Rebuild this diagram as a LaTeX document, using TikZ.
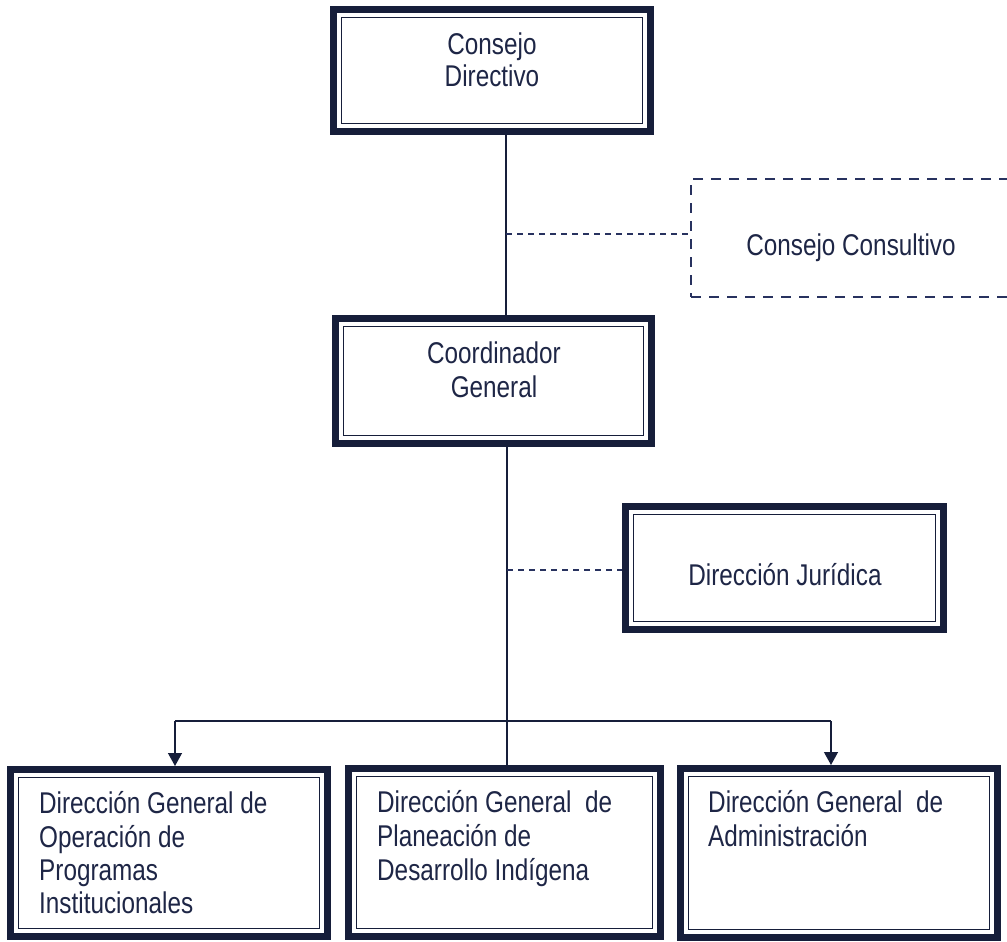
\documentclass[tikz,border=0pt]{standalone}
\usepackage{fontspec}
\setmainfont{Liberation Sans}[FakeStretch=0.81]
\usetikzlibrary{arrows.meta}
\definecolor{navy}{RGB}{22,30,58}
\definecolor{ink}{RGB}{30,38,70}
\definecolor{dashcol}{RGB}{40,50,95}
\tikzset{
  box/.style={draw=navy, line width=7pt, fill=white, inner sep=0pt},
  innerbox/.style={draw=navy, line width=1.8pt},
  dbox/.style={draw=dashcol, line width=2.2pt, dash pattern=on 10pt off 8pt, inner sep=0pt},
  txt/.style={text=ink, inner sep=0pt, font=\fontsize{30}{34}\selectfont},
  conn/.style={draw=navy, line width=1.3pt},
  dconn/.style={draw=dashcol, line width=1.3pt, dash pattern=on 6pt off 5pt},
  arr/.style={conn, -{Triangle[width=14pt,length=13pt]}}
}
\begin{document}
\begin{tikzpicture}[x=1pt,y=-1pt]
\useasboundingbox (0,0) rectangle (1007,942);
\fill[white] (0,0) rectangle (1007,942);

% boxes
\node[box, minimum width=317pt, minimum height=122pt] (cd) at (492,70.5) {};
\node[dbox, minimum width=334pt, minimum height=118pt] (cc) at (858,238) {};
\node[box, minimum width=316pt, minimum height=125pt] (cg) at (493.5,381) {};
\node[box, minimum width=318pt, minimum height=123pt] (dj) at (784.5,568) {};
\node[box, minimum width=317pt, minimum height=167pt] (b1) at (169,853) {};
\node[box, minimum width=312pt, minimum height=168pt] (b2) at (504.5,852.5) {};
\node[box, minimum width=317pt, minimum height=169pt] (b3) at (839,853) {};

\foreach \n in {cd,cg,dj,b1,b2,b3}
  \draw[innerbox] ([shift={(11.5,11.5)}]\n.north west) rectangle ([shift={(-11.5,-11.5)}]\n.south east);

% texts
\node[txt, anchor=base] (cd1) at (492,55) {Consejo};
\node[txt, anchor=base] (cd2) at (492,87) {Directivo};
\node[txt, anchor=base] (cct) at (851,255) {Consejo Consultivo};
\node[txt, anchor=base] (cg1) at (494,363) {Coordinador};
\node[txt, anchor=base] (cg2) at (494,397) {General};
\node[txt, anchor=base] (djt) at (785,585) {Dirección Jurídica};
\node[txt, anchor=base west] (b1a) at (39,813) {Dirección General de};
\node[txt, anchor=base west] (b1b) at (39,847) {Operación de};
\node[txt, anchor=base west] (b1c) at (39,880) {Programas};
\node[txt, anchor=base west] (b1d) at (39,913) {Institucionales};
\node[txt, anchor=base west] (b2a) at (377,812) {Dirección General~~de};
\node[txt, anchor=base west] (b2b) at (377,846) {Planeación de};
\node[txt, anchor=base west] (b2c) at (377,880) {Desarrollo Indígena};
\node[txt, anchor=base west] (b3a) at (708,812) {Dirección General~~de};
\node[txt, anchor=base west] (b3b) at (708,846) {Administración};

% connectors
\coordinate (t1) at (506,234);
\coordinate (t2) at (507,570);
\coordinate (hl) at (175,721);
\coordinate (hr) at (831,721);
\draw[conn] (cd.south -| t1) -- (cg.north -| t1);
\draw[dconn] (t1) -- (cc.west |- t1);
\draw[conn] (cg.south -| t2) -- (b2.north -| t2);
\draw[dconn] (t2) -- (dj.west |- t2);
\draw[conn] (hl) -- (hr);
\draw[arr] (hl) -- (b1.north -| hl);
\draw[arr] (hr) -- (b3.north -| hr);
\end{tikzpicture}
\end{document}
